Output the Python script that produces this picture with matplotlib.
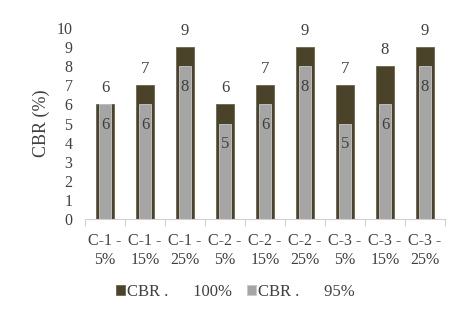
import numpy as np
import matplotlib
matplotlib.use("Agg")
from matplotlib import pyplot as plt

categorias = ["C-1 -\n5%", "C-1 -\n15%", "C-1 -\n25%", "C-2 -\n5%", "C-2 -\n15%",
              "C-2 -\n25%", "C-3 -\n5%", "C-3 -\n15%", "C-3 -\n25%"]
cbr_100 = [6, 7, 9, 6, 7, 9, 7, 8, 9]
cbr_95 = [6, 6, 8, 5, 6, 8, 5, 6, 8]

cor_escura = "#4a4329"
cor_clara = "#a5a5a5"
cor_texto = "#404040"
tam = 11.5

plt.rcParams["font.family"] = ["Liberation Serif", "DejaVu Serif"]
plt.rcParams["font.size"] = tam

fig = plt.figure(figsize=(4.62, 3.16), dpi=100)
ax = fig.add_axes([85 / 462, 1 - 219 / 316, 360 / 462, 191 / 316])

x = np.arange(len(categorias))
b1 = ax.bar(x, cbr_100, width=0.46, color=cor_escura, edgecolor="#6b6548", linewidth=0.6,
            label="CBR .      100%")
b2 = ax.bar(x, cbr_95, width=0.28, color=cor_clara, edgecolor="#c8c8c8", linewidth=0.6,
            label="CBR .      95%")

for xi, v in zip(x, cbr_100):
    ax.text(xi, v + 0.45, str(v), ha="center", va="bottom", color=cor_texto, fontsize=tam + 0.5)
for xi, v in zip(x, cbr_95):
    ax.text(xi, v - 0.65, str(v), ha="center", va="top", color=cor_texto, fontsize=tam + 0.5)

ax.set_xlim(-0.5, len(categorias) - 0.5)
ax.set_ylim(0, 10)
ax.set_yticks(range(0, 11))
ax.set_xticks(x)
ax.set_xticklabels(categorias, color=cor_texto, fontsize=tam, linespacing=1.25)
ax.set_xticks(np.arange(-0.5, len(categorias)), minor=True)
ax.tick_params(axis="x", which="major", length=0, pad=10)
ax.tick_params(axis="x", which="minor", length=5, color="#d0d0d0", width=0.8)
ax.tick_params(axis="y", length=0, colors=cor_texto, labelsize=tam, pad=9)
ax.set_ylabel("CBR (%)", color=cor_texto, fontsize=13, labelpad=5)

for lado in ["top", "right", "left"]:
    ax.spines[lado].set_visible(False)
ax.spines["bottom"].set_color("#d0d0d0")
ax.spines["bottom"].set_linewidth(0.8)

fig.legend(handles=[b1, b2], loc="center", bbox_to_anchor=(0.51, 1 - 292 / 316), ncol=2,
           frameon=False, handlelength=0.5, handleheight=0.5, handletextpad=0.15,
           columnspacing=0.9, fontsize=tam + 0.5, labelcolor=cor_texto)

fig.savefig("out.png", dpi=100)
